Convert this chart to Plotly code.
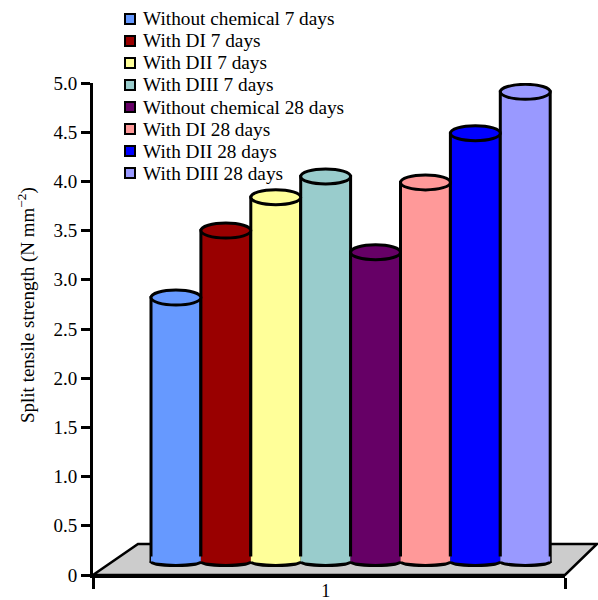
import plotly.graph_objects as go

series = ["Without chemical 7 days", "With DI 7 days", "With DII 7 days", "With DIII 7 days",
          "Without chemical 28 days", "With DI 28 days", "With DII 28 days", "With DIII 28 days"]
values = [2.82, 3.50, 3.84, 4.05, 3.28, 3.99, 4.49, 4.91]
colors = ["#6699FF", "#990000", "#FFFF99", "#99CCCC", "#660066", "#FF9999", "#0000FF", "#9999FF"]
ytick_vals = [0, 0.5, 1, 1.5, 2, 2.5, 3, 3.5, 4, 4.5, 5]
ytick_text = ["0", "0.5", "1.0", "1.5", "2.0", "2.5", "3.0", "3.5", "4.0", "4.5", "5.0"]
category = "1"
y_title = "Split tensile strength (N mm<sup>\u22122</sup>)"

W, H = 598, 600
L, R, T, B = 93, 565, 83, 575
FONT = "Liberation Serif"
px_x = (R - L)  # pixels per x unit (range width 1)
px_y = (B - T) / 5.0

bar_w = 49.9 / px_x
first_left = 0.5 + (151 - L) / px_x
lift = 13.5 / px_y    # floor offset of the cylinder's rim
top_ry = 7.5 / px_y
bot_ry = 4 / px_y
K = 0.5523

fig = go.Figure()
shapes = []
annotations = []

def pxp(x, y):
    return f"{(x - L) / (R - L):.4f},{(B - y) / (B - T):.4f}"

shapes.append(dict(type="path", xref="paper", yref="paper", layer="below",
                   path=f"M{pxp(L,B)} L{pxp(R,B)} L{pxp(597,544)} L{pxp(138,544)} Z",
                   fillcolor="#CCCCCC", line=dict(color="black", width=2.5)))

for i, (name, v, c) in enumerate(zip(series, values, colors)):
    left = first_left + i * bar_w
    right = left + bar_w
    mid = (left + right) / 2
    rx = bar_w / 2
    fig.add_trace(go.Bar(x=[1], y=[v - lift], base=[lift], name=name, width=bar_w, offset=left - 1,
                         marker=dict(color=c, line=dict(color="black", width=3)),
                         showlegend=False))
    curve = (f"C{left},{lift - K * bot_ry} {mid - K * rx},{lift - bot_ry} {mid},{lift - bot_ry} "
             f"C{mid + K * rx},{lift - bot_ry} {right},{lift - K * bot_ry} {right},{lift}")
    shapes.append(dict(type="path", xref="x", yref="y",
                       path=f"M{left},{lift + 0.05} L{left},{lift} {curve} L{right},{lift + 0.05} Z",
                       fillcolor=c, line=dict(width=0)))
    shapes.append(dict(type="path", xref="x", yref="y",
                       path=f"M{left},{lift} {curve}",
                       fillcolor="rgba(0,0,0,0)", line=dict(color="black", width=3)))
    shapes.append(dict(type="circle", xref="x", yref="y", x0=left, x1=right,
                       y0=v - top_ry, y1=v + top_ry, fillcolor=c,
                       line=dict(color="black", width=3)))
    ly = 19 + i * 22
    shapes.append(dict(type="rect", xref="paper", yref="paper",
                       x0=(125 - L) / px_x, x1=(135 - L) / px_x,
                       y0=(B - (ly + 5)) / (B - T), y1=(B - (ly - 5)) / (B - T),
                       fillcolor=c, line=dict(color="black", width=2)))
    annotations.append(dict(text=name, xref="paper", yref="paper", showarrow=False,
                            x=(141 - L) / px_x, y=(B - ly) / (B - T), xanchor="left", yanchor="middle",
                            font=dict(family=FONT, size=19.3, color="black")))

annotations.append(dict(text=y_title, xref="paper", yref="paper", showarrow=False, textangle=-90,
                        x=(26 - L) / px_x, y=(B - 305) / (B - T), xanchor="center", yanchor="middle",
                        font=dict(family=FONT, size=19, color="black")))

fig.update_layout(
    width=W, height=H, autosize=False, barmode="overlay", showlegend=False,
    paper_bgcolor="white", plot_bgcolor="white",
    margin=dict(l=L, r=W - R, t=T, b=H - B, pad=0, autoexpand=False),
    font=dict(family=FONT, color="black"),
    shapes=shapes, annotations=annotations,
    xaxis=dict(range=[0.5, 1.5], tickmode="array", tickvals=[0.993], ticktext=[category],
               ticks="outside", ticklen=0, showgrid=False, zeroline=False, automargin=False,
               showline=True, linecolor="black", linewidth=3, ticklabelstandoff=-3,
               tickfont=dict(family=FONT, size=18, color="black"),
               minor=dict(tickmode="array", tickvals=[0.5, 1.5], ticks="outside",
                          ticklen=11, tickwidth=3, tickcolor="black", showgrid=False)),
    yaxis=dict(range=[0, 5], tickmode="array", tickvals=ytick_vals, ticktext=ytick_text,
               ticks="outside", ticklen=9, tickwidth=3, tickcolor="black", automargin=False,
               showgrid=False, zeroline=False, showline=True, linecolor="black", linewidth=3,
               tickfont=dict(family=FONT, size=19, color="black")),
)
fig.write_html("out.html", config={"displayModeBar": False},
               post_script="document.body.style.margin='0';")
